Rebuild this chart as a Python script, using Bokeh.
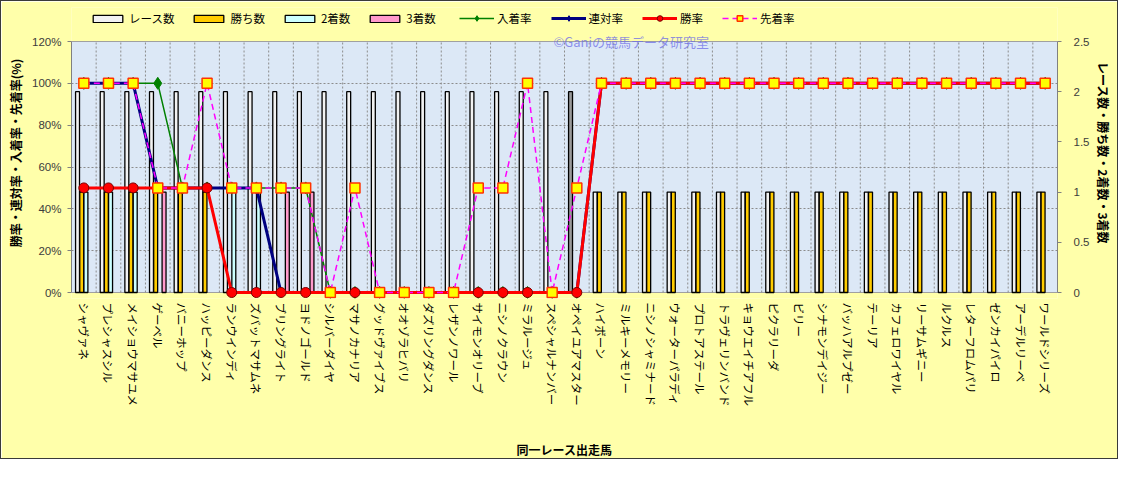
import math
import numpy as np
from bokeh.plotting import figure
from bokeh.models import (Range1d, LinearAxis, FixedTicker, Legend, LegendItem, Label)
from bokeh.embed import file_html
from bokeh.resources import INLINE

# ---------------- data ----------------
horses = ["シャヴァネ", "プレシャスシル", "メイショウマサユメ", "ゲーベル", "バニーホップ",
          "ハッピーダンス", "ランウインディ", "ズバットマサムネ", "ブリングライト", "ヨドノゴールド",
          "シルバーダイヤ", "マサノカナリア", "グッドヴァイブス", "オオゾラヒバリ", "ダズリングダンス",
          "レザンノワール", "サイモンオリーブ", "ニシノクラウン", "ミラルージュ", "スペシャルナンバー",
          "オペイユアマスター", "ハイボーン", "ミルキーメモリー", "ニシノシャミナード", "ウォーターパラディ",
          "プロトアステール", "トラヴェリンバンド", "キョウエイチアフル", "ピクラリーダ", "ビリー",
          "シナモンデイジー", "バッハアルプゼー", "テーリア", "カフェロワイヤル", "リーサムギニー",
          "ルクルス", "レターフロムパリ", "ゼンカイパイロ", "アーデルリーベ", "ワールドシリーズ"]

races  = [2, 2, 2, 2, 2, 2, 2, 2, 2, 2, 2, 2, 2, 2, 2, 2, 2, 2, 2, 2, 2,
          1, 1, 1, 1, 1, 1, 1, 1, 1, 1, 1, 1, 1, 1, 1, 1, 1, 1, 1]
wins   = [1, 1, 1, 1, 1, 1, 0, 0, 0, 0, 0, 0, 0, 0, 0, 0, 0, 0, 0, 0, 0,
          1, 1, 1, 1, 1, 1, 1, 1, 1, 1, 1, 1, 1, 1, 1, 1, 1, 1, 1]
second = [1, 1, 1, 0, 0, 0, 1, 1, 0, 0, 0, 0, 0, 0, 0, 0, 0, 0, 0, 0, 0,
          0, 0, 0, 0, 0, 0, 0, 0, 0, 0, 0, 0, 0, 0, 0, 0, 0, 0, 0]
third  = [0, 0, 0, 1, 0, 0, 0, 0, 1, 1, 0, 0, 0, 0, 0, 0, 0, 0, 0, 0, 0,
          0, 0, 0, 0, 0, 0, 0, 0, 0, 0, 0, 0, 0, 0, 0, 0, 0, 0, 0]

nyuchaku_rate = [100, 100, 100, 100, 50, 50, 50, 50, 50, 50, 0, 0, 0, 0, 0, 0, 0, 0, 0, 0, 0,
                 100, 100, 100, 100, 100, 100, 100, 100, 100, 100, 100, 100, 100, 100, 100, 100, 100, 100, 100]
rentai_rate   = [100, 100, 100, 50, 50, 50, 50, 50, 0, 0, 0, 0, 0, 0, 0, 0, 0, 0, 0, 0, 0,
                 100, 100, 100, 100, 100, 100, 100, 100, 100, 100, 100, 100, 100, 100, 100, 100, 100, 100, 100]
win_rate      = [50, 50, 50, 50, 50, 50, 0, 0, 0, 0, 0, 0, 0, 0, 0, 0, 0, 0, 0, 0, 0,
                 100, 100, 100, 100, 100, 100, 100, 100, 100, 100, 100, 100, 100, 100, 100, 100, 100, 100, 100]
senchaku_rate = [100, 100, 100, 50, 50, 100, 50, 50, 50, 50, 0, 50, 0, 0, 0, 0, 50, 50, 100, 0, 50,
                 100, 100, 100, 100, 100, 100, 100, 100, 100, 100, 100, 100, 100, 100, 100, 100, 100, 100, 100]

highlight_horse = "オペイユアマスター"

left_ticks = [0, 20, 40, 60, 80, 100, 120]
left_tick_labels = ["0%", "20%", "40%", "60%", "80%", "100%", "120%"]
right_ticks = [0, 0.5, 1, 1.5, 2, 2.5]
right_tick_labels = ["0", "0.5", "1", "1.5", "2", "2.5"]

# ---------------- layout constants ----------------
JP = "Noto Sans CJK JP"
n = len(horses)
x = np.arange(1, n + 1)
LEFT_MAX, RIGHT_MAX = 120, 2.5
AREA_PX = 251          # pixel height of the 0..120 plot area
TOP_PAD_PX = 34        # space above the plot area kept inside the frame (legend row)
BOT_PAD_PX = 6         # space below 0 so that markers at 0 are not clipped
y_lo = -BOT_PAD_PX * LEFT_MAX / AREA_PX
y_hi = LEFT_MAX + TOP_PAD_PX * LEFT_MAX / AREA_PX
k = RIGHT_MAX / LEFT_MAX

p = figure(width=1118, height=459, output_backend="svg", toolbar_location=None,
           x_range=Range1d(0.5, n + 0.5), y_range=Range1d(y_lo, y_hi),
           min_border_left=70, min_border_right=62, min_border_top=6, min_border_bottom=162)
p.styles = {"border": "1px solid #3a3a3a"}
p.extra_y_ranges = {"right": Range1d(y_lo * k, y_hi * k)}
p.background_fill_color = "#FFFFAA"
p.border_fill_color = "#FFFFAA"
p.outline_line_color = None

# plot area (0..120 band) and its grid
p.quad(left=0.5, right=n + 0.5, bottom=0, top=LEFT_MAX, fill_color="#DCE8F6",
       line_color="#A0A0A0", line_width=1, level="image")
p.xgrid.visible = False
p.ygrid.ticker = FixedTicker(ticks=left_ticks[1:-1])
p.ygrid.grid_line_color = "#8C8C8C"
p.ygrid.grid_line_dash = "2 2"
bounds = np.arange(1.5, n, 1.0)
p.segment(x0=bounds, y0=0, x1=bounds, y1=LEFT_MAX, line_color="#8C8C8C",
          line_dash="2 2", line_width=1, level="underlay")

# x axis
xa = p.xaxis[0]
xa.ticker = FixedTicker(ticks=list(x))
xa.major_label_overrides = {int(i): h for i, h in zip(x, horses)}
xa.major_label_orientation = -math.pi / 2
xa.major_tick_line_color = None
xa.major_tick_out = 0
xa.minor_tick_line_color = None
xa.axis_line_color = None
xa.major_label_standoff = 4
xa.major_label_text_font = JP
xa.major_label_text_font_size = "11.5px"
xa.major_label_text_color = "#000000"
xa.axis_label = "同一レース出走馬"
xa.axis_label_standoff = 32
xa.axis_label_text_font = JP
xa.axis_label_text_font_size = "12px"
xa.axis_label_text_font_style = "bold"
xa.axis_label_text_color = "#000000"

# left axis
ya = p.yaxis[0]
ya.ticker = FixedTicker(ticks=left_ticks)
ya.bounds = (0, LEFT_MAX)
ya.major_label_overrides = {t: l for t, l in zip(left_ticks, left_tick_labels)}
ya.axis_line_color = "#808080"
ya.major_tick_line_color = "#808080"
ya.major_tick_out = 4
ya.major_tick_in = 0
ya.minor_tick_line_color = None
ya.major_label_standoff = 6
ya.major_label_text_font = "Liberation Sans"
ya.major_label_text_font_size = "11.5px"
ya.major_label_text_color = "#3C3C3C"
ya.axis_label = "勝率・連対率・入着率・先着率(%)"
ya.axis_label_standoff = 5
ya.axis_label_text_font = JP
ya.axis_label_text_font_size = "12px"
ya.axis_label_text_font_style = "bold"
ya.axis_label_text_color = "#000000"

# right axis
ra = LinearAxis(y_range_name="right", ticker=FixedTicker(ticks=right_ticks))
ra.bounds = (0, RIGHT_MAX)
ra.major_label_overrides = {t: l for t, l in zip(right_ticks, right_tick_labels)}
ra.axis_line_color = "#808080"
ra.major_tick_line_color = "#808080"
ra.major_tick_out = 4
ra.major_tick_in = 0
ra.minor_tick_line_color = None
ra.major_label_standoff = 12
ra.major_label_text_font = "Liberation Sans"
ra.major_label_text_font_size = "11.5px"
ra.major_label_text_color = "#3C3C3C"
ra.axis_label = "レース数・勝ち数・2着数・3着数"
ra.axis_label_standoff = 3
ra.axis_label_text_font = JP
ra.axis_label_text_font_size = "12px"
ra.axis_label_text_font_style = "bold"
ra.axis_label_text_color = "#000000"
p.add_layout(ra, "right")

# ---------------- bars ----------------
def nz(arr):
    a = np.array(arr, dtype=float)
    return np.where(a > 0, a, np.nan)

race_colors = ["#9A9A9A" if h == highlight_horse else "#F2F2F2" for h in horses]
bw = 0.16
race_r = p.vbar(x=x - 0.255, top=nz(races), bottom=0, width=bw, fill_color=race_colors,
                line_color="#000000", line_width=1.3, y_range_name="right")
win_r = p.vbar(x=x - 0.085, top=nz(wins), bottom=0, width=bw, fill_color="#FFCC00",
               line_color="#000000", line_width=1.3, y_range_name="right")
sec_r = p.vbar(x=x + 0.085, top=nz(second), bottom=0, width=bw, fill_color="#CCFFFF",
               line_color="#000000", line_width=1.3, y_range_name="right")
thr_r = p.vbar(x=x + 0.255, top=nz(third), bottom=0, width=bw, fill_color="#FF99CC",
               line_color="#000000", line_width=1.3, y_range_name="right")

# ---------------- lines ----------------
g_line = p.line(x, nyuchaku_rate, line_color="#008000", line_width=1.5)
g_pts = p.scatter(x, nyuchaku_rate, marker="diamond", size=12, fill_color="#008000", line_color="#008000")
n_line = p.line(x, rentai_rate, line_color="#000080", line_width=3)
n_pts = p.scatter(x, rentai_rate, marker="diamond", size=8, fill_color="#000080", line_color="#000080")
r_line = p.line(x, win_rate, line_color="#FF0000", line_width=3)
r_pts = p.scatter(x, win_rate, marker="circle", size=10, fill_color="#FF0000", line_color="#7A0000", line_width=1)
m_line = p.line(x, senchaku_rate, line_color="#FF00FF", line_width=1.5, line_dash="6 4")
m_pts = p.scatter(x, senchaku_rate, marker="square", size=10, fill_color="#FFFF00", line_color="#FF3300", line_width=1.5)

# ---------------- watermark ----------------
p.add_layout(Label(x=23.21, y=LEFT_MAX, text="©Ganiの競馬データ研究室", text_align="center",
                   text_baseline="middle", text_font=JP, text_font_size="13px",
                   text_color="#6E6EE6", text_alpha=0.75))

# ---------------- legends (inside the frame, in the row above the plot area) ----------------
bar_legend = Legend(items=[
    LegendItem(label="レース数", renderers=[race_r], index=0),
    LegendItem(label="勝ち数", renderers=[win_r]),
    LegendItem(label="2着数", renderers=[sec_r]),
    LegendItem(label="3着数", renderers=[thr_r]),
], orientation="horizontal", location=(18, 272), glyph_width=37, glyph_height=9,
    label_height=14, label_standoff=3, spacing=16, padding=0, margin=0,
    border_line_color=None, background_fill_alpha=0,
    label_text_font=JP, label_text_font_size="11.5px", label_text_color="#000000")
line_legend = Legend(items=[
    LegendItem(label="入着率", renderers=[g_line, g_pts]),
    LegendItem(label="連対率", renderers=[n_line, n_pts]),
    LegendItem(label="勝率", renderers=[r_line, r_pts]),
    LegendItem(label="先着率", renderers=[m_line, m_pts]),
], orientation="horizontal", location=(388, 272), glyph_width=35, glyph_height=14,
    label_height=14, label_standoff=3, spacing=19, padding=0, margin=0,
    border_line_color=None, background_fill_alpha=0,
    label_text_font=JP, label_text_font_size="11.5px", label_text_color="#000000")
p.add_layout(bar_legend, "center")
p.add_layout(line_legend, "center")

open("out.html", "w").write(file_html(p, INLINE))
